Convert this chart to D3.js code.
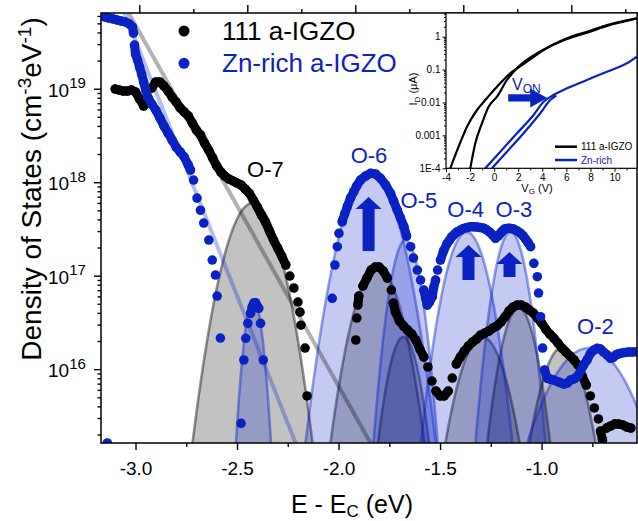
<!DOCTYPE html>
<html>
<head>
<meta charset="utf-8">
<script src="https://cdn.jsdelivr.net/npm/d3@7"></script>
<style>
    body { margin: 0; background: #fff; }
    svg { font-family: Arial, "Liberation Sans", sans-serif; }
</style>
</head>
<body>
<div id="content"></div>
<script>
// density of states, [E - Ec (eV), log10 DOS (cm-3 eV-1)]
const dos111 = [
    [-3.10, 18.997], [-3.08, 18.986], [-3.06, 18.975], [-3.04, 18.975], [-3.02, 18.986], [-3.00, 18.965],
    [-2.98, 18.89], [-2.96, 18.815], [-2.94, 18.879], [-2.92, 19.007], [-2.90, 19.072], [-2.88, 19.072],
    [-2.86, 19.029], [-2.84, 18.975], [-2.82, 18.911], [-2.80, 18.858], [-2.78, 18.794], [-2.76, 18.751],
    [-2.74, 18.708], [-2.72, 18.633], [-2.70, 18.558], [-2.68, 18.505], [-2.66, 18.419], [-2.64, 18.344],
    [-2.62, 18.259], [-2.60, 18.173], [-2.58, 18.109], [-2.56, 18.066], [-2.54, 18.034], [-2.52, 18.013],
    [-2.50, 17.991], [-2.48, 17.97], [-2.46, 17.927], [-2.44, 17.884], [-2.42, 17.809], [-2.40, 17.734],
    [-2.38, 17.648], [-2.36, 17.574], [-2.34, 17.477], [-2.32, 17.381], [-2.30, 17.296], [-2.28, 17.21],
    [-2.26, 17.114], [-2.24, 16.996], [-2.22, 16.868], [-2.20, 16.718], [-2.19, 16.61], [-2.185, 16.47],
    [-2.165, 16.226], [-2.155, 15.713],
    [-1.915, 16.312], [-1.91, 16.547], [-1.905, 16.686], [-1.90, 16.782], [-1.88, 16.889], [-1.86, 16.975],
    [-1.84, 17.06], [-1.82, 17.092], [-1.80, 17.092], [-1.78, 17.05], [-1.76, 16.975], [-1.74, 16.846],
    [-1.73, 16.707], [-1.72, 16.611], [-1.70, 16.515], [-1.68, 16.462], [-1.66, 16.419], [-1.64, 16.376],
    [-1.62, 16.312], [-1.60, 16.215], [-1.58, 16.13], [-1.56, 16.023], [-1.54, 15.873], [-1.52, 15.766],
    [-1.50, 15.713], [-1.48, 15.713], [-1.46, 15.766], [-1.44, 15.905], [-1.42, 16.055], [-1.40, 16.13],
    [-1.38, 16.194], [-1.36, 16.248], [-1.34, 16.29], [-1.32, 16.322], [-1.30, 16.365], [-1.28, 16.386],
    [-1.26, 16.408], [-1.24, 16.44], [-1.22, 16.462], [-1.20, 16.504], [-1.18, 16.558], [-1.16, 16.622],
    [-1.14, 16.665], [-1.12, 16.686], [-1.10, 16.686], [-1.08, 16.665], [-1.06, 16.632], [-1.04, 16.6],
    [-1.02, 16.547], [-1.00, 16.493], [-0.98, 16.429], [-0.96, 16.376], [-0.94, 16.333], [-0.92, 16.28],
    [-0.90, 16.226], [-0.88, 16.183], [-0.86, 16.141], [-0.84, 16.098], [-0.82, 16.044], [-0.80, 15.927],
    [-0.78, 15.83], [-0.76, 15.713], [-0.74, 15.585], [-0.72, 15.467], [-0.71, 15.338], [-0.70, 15.242],
    [-0.68, 15.37], [-0.66, 15.392], [-0.64, 15.413], [-0.62, 15.413], [-0.60, 15.403], [-0.58, 15.381],
    [-0.56, 15.37]
];
const dosZn = [
    [-3.139, 15.21],
    [-3.15, 19.767], [-3.13, 19.756], [-3.11, 19.746], [-3.09, 19.735], [-3.07, 19.724], [-3.05, 19.714],
    [-3.03, 19.692], [-3.015, 19.66], [-3.01, 19.596], [-3.005, 19.467], [-3.00, 19.371], [-2.99, 19.307],
    [-2.98, 19.232], [-2.97, 19.157], [-2.96, 19.072], [-2.95, 18.986], [-2.94, 18.911], [-2.92, 18.836],
    [-2.90, 18.772], [-2.88, 18.687], [-2.86, 18.601], [-2.84, 18.526], [-2.82, 18.451], [-2.80, 18.376],
    [-2.78, 18.323], [-2.76, 18.269], [-2.74, 18.184], [-2.729, 18.13], [-2.714, 18.023], [-2.697, 17.83],
    [-2.68, 17.70], [-2.664, 17.563], [-2.639, 17.381], [-2.622, 17.167], [-2.606, 17.007], [-2.598, 16.782],
    [-2.582, 16.333],
    [-2.480, 15.42], [-2.4665, 16.098], [-2.457, 16.33], [-2.447, 16.49], [-2.4335, 16.597], [-2.425, 16.668],
    [-2.417, 16.708], [-2.409, 16.711], [-2.393, 16.651], [-2.384, 16.49], [-2.371, 16.098],
    [-2.031, 16.758], [-2.018, 17.114], [-2.006, 17.31], [-1.998, 17.453], [-1.982, 17.577], [-1.970, 17.66],
    [-1.957, 17.738], [-1.941, 17.831], [-1.925, 17.898], [-1.911, 17.959], [-1.892, 18.023], [-1.867, 18.066],
    [-1.842, 18.095], [-1.818, 18.088], [-1.793, 18.041], [-1.768, 17.97], [-1.744, 17.881], [-1.729, 17.799],
    [-1.711, 17.702], [-1.695, 17.617], [-1.678, 17.524], [-1.665, 17.424], [-1.645, 17.31], [-1.631, 17.189],
    [-1.612, 17.06], [-1.596, 16.953], [-1.580, 16.846], [-1.571, 16.761], [-1.563, 16.686], [-1.552, 16.718],
    [-1.538, 16.775], [-1.532, 16.868], [-1.522, 16.953], [-1.512, 17.06], [-1.498, 17.167], [-1.483, 17.264],
    [-1.465, 17.346], [-1.453, 17.381], [-1.443, 17.414], [-1.430, 17.442], [-1.415, 17.470], [-1.399, 17.488],
    [-1.384, 17.505], [-1.367, 17.515], [-1.350, 17.524], [-1.335, 17.523], [-1.320, 17.521], [-1.303, 17.515],
    [-1.284, 17.507], [-1.271, 17.491], [-1.256, 17.467], [-1.241, 17.435], [-1.227, 17.40], [-1.214, 17.424],
    [-1.202, 17.456], [-1.192, 17.478], [-1.182, 17.499], [-1.172, 17.504], [-1.161, 17.507], [-1.150, 17.504],
    [-1.138, 17.499], [-1.121, 17.48], [-1.103, 17.453], [-1.091, 17.426], [-1.079, 17.392], [-1.067, 17.355],
    [-1.054, 17.31], [-1.038, 17.132], [-1.021, 16.989], [-1.015, 16.814], [-1.005, 16.561], [-0.995, 16.226],
    [-0.985, 15.991], [-0.972, 15.902], [-0.958, 15.893], [-0.941, 15.884], [-0.916, 15.862], [-0.903, 15.852],
    [-0.890, 15.841], [-0.873, 15.852], [-0.857, 15.884], [-0.840, 15.895], [-0.824, 15.919], [-0.808, 15.98],
    [-0.793, 16.044], [-0.776, 16.098], [-0.759, 16.169], [-0.742, 16.205], [-0.726, 16.223], [-0.710, 16.215],
    [-0.695, 16.183], [-0.677, 16.151], [-0.660, 16.116], [-0.648, 16.125], [-0.635, 16.151], [-0.624, 16.162],
    [-0.611, 16.169], [-0.592, 16.178], [-0.571, 16.183], [-0.552, 16.183], [-0.529, 16.187]
];

// gaussian fit components, [centre (eV), log10 peak, sigma (eV)]
const fit111 = [
    [-2.4236, 17.777, 0.086], [-1.808, 17.082, 0.079], [-1.680, 16.344, 0.055],
    [-1.291, 16.344, 0.08], [-1.113, 16.654, 0.06], [-0.897, 16.237, 0.075]
];
const fitZn = [
    [-2.419, 16.739, 0.0325], [-1.842, 18.098, 0.088], [-1.670, 17.381, 0.05],
    [-1.369, 17.467, 0.07], [-1.153, 17.467, 0.0535], [-0.768, 16.226, 0.14]
];
// exponential tails, [E, log10 DOS at E, decades per eV]
const tail111 = [-3.034, 19.81, -3.86];
const tailZn = [-3.054, 19.81, -5.46];

const peakNames = ["O-7", "O-6", "O-5", "O-4", "O-3", "O-2"];
const peakLabelE = [-2.360, -1.850, -1.604, -1.374, -1.136, -0.735];
const peakLabelLog = [18.055, 18.202, 17.721, 17.631, 17.631, 16.376];
// increase arrows, [E, log10 tip, log10 tail]
const riseArrows = [[-1.852, 17.841, 17.264], [-1.360, 17.328, 16.953], [-1.158, 17.253, 16.986]];

const xMajor = [-3, -2.5, -2, -1.5, -1];
const xMinor = [-2.75, -2.25, -1.75, -1.25, -0.75];
const yMajor = [1e16, 1e17, 1e18, 1e19];
const legendNames = ["111 a-IGZO", "Zn-rich a-IGZO"];

// inset transfer curves, [VG (V), log10 ID (uA)]
const id111Fwd = [[-3.643, -4.0], [-2.953, -3.343], [-2.256, -2.736], [-1.425, -2.228], [-0.736, -1.924],
    [0.236, -1.520], [1.340, -1.112], [2.728, -0.760], [4.106, -0.404], [6.050, -0.049], [7.711, 0.152],
    [9.920, 0.407], [11.864, 0.559]];
const id111Rev = [[-1.982, -4.0], [-1.566, -3.240], [-1.010, -2.632], [-0.462, -2.128], [0.236, -1.824],
    [1.066, -1.316], [2.171, -0.860], [3.558, -0.505], [5.493, -0.152], [7.711, 0.122], [9.920, 0.386],
    [11.864, 0.559]];
const idZnFwd = [[-0.736, -4.0], [0.510, -3.495], [1.897, -2.936], [3.276, -2.380], [4.106, -1.976],
    [4.937, -1.772], [6.050, -1.568], [7.711, -1.316], [9.372, -1.064], [11.033, -0.809], [11.864, -0.608]];
const idZnRev = [[-0.179, -4.0], [1.066, -3.495], [2.445, -2.936], [3.832, -2.328], [4.663, -1.924],
    [5.161, -1.787]];
const insetXTicks = [-4, -2, 0, 2, 4, 6, 8, 10];
const insetYTicks = [1e-4, 1e-3, 1e-2, 1e-1, 1];
const insetYLabels = ["1E-4", "0.001", "0.01", "0.1", "1"];
const insetLegend = ["111 a-IGZO", "Zn-rich"];
// V_ON shift arrow [VG start, VG tip, log10 ID]
const vonArrow = [1.17, 4.41, -1.86];

const blue = "#0a22c2";

function draw() {
    const svg = d3.select("#content").append("svg")
        .attr("width", 638)
        .attr("height", 521);

    const left = 101, right = 637, top = 13, bottom = 443;
    const x = d3.scaleLinear().domain([-3.17, -0.53]).range([left, right]);
    const y = d3.scaleLog().domain([Math.pow(10, 15.21), Math.pow(10, 19.81)]).range([bottom, top]);
    const p = (l) => y(Math.pow(10, l));

    svg.append("clipPath").attr("id", "plotclip")
        .append("rect").attr("x", left).attr("y", top)
        .attr("width", right - left).attr("height", bottom - top);

    const plot = svg.append("g").attr("clip-path", "url(#plotclip)");

    // gaussian component sampled down to 1e15
    function gauss(f) {
        const span = f[2] * Math.sqrt(2 * (f[1] - 15.0) / Math.LOG10E);
        return d3.range(0, 161).map(function (i) {
            const e = f[0] - span + 2 * span * i / 160;
            return [e, f[1] - Math.LOG10E * (e - f[0]) * (e - f[0]) / (2 * f[2] * f[2])];
        });
    }
    const area = d3.area().x(d => x(d[0])).y0(bottom).y1(d => p(Math.max(d[1], 15.0)));
    const line = d3.line().x(d => x(d[0])).y(d => p(d[1]));

    function fits(data, fill, stroke) {
        const g = plot.append("g");
        g.selectAll("path.fill").data(data).enter()
            .append("path").attr("class", "fill")
            .attr("d", d => area(gauss(d)))
            .attr("fill", fill);
        g.selectAll("path.edge").data(data).enter()
            .append("path").attr("class", "edge")
            .attr("d", d => line(gauss(d)))
            .attr("fill", "none")
            .attr("stroke", stroke)
            .attr("stroke-width", 2.6);
    }
    fits(fit111, "rgba(0,0,0,0.24)", "rgba(0,0,0,0.42)");
    fits(fitZn, "rgba(10,34,200,0.24)", "rgba(10,34,200,0.42)");

    function tail(t, stroke) {
        const e1 = t[0] - 0.1, e2 = t[0] + (15.0 - t[1]) / t[2];
        plot.append("path")
            .attr("d", line([[e1, t[1] + t[2] * (e1 - t[0])], [e2, 15.0]]))
            .attr("fill", "none")
            .attr("stroke", stroke)
            .attr("stroke-width", 4);
    }
    tail(tail111, "rgba(0,0,0,0.3)");
    tail(tailZn, "rgba(10,34,200,0.3)");

    // measured points; neighbours closer than a marker are bridged so the
    // dense runs read as one thick band like the original scatter
    function scatter(data, color) {
        const g = plot.append("g");
        let segs = "";
        for (let i = 1; i < data.length; i++) {
            const x0 = x(data[i - 1][0]), y0 = p(data[i - 1][1]);
            const x1 = x(data[i][0]), y1 = p(data[i][1]);
            if (Math.hypot(x1 - x0, y1 - y0) < 10) segs += "M" + x0 + "," + y0 + "L" + x1 + "," + y1;
        }
        g.append("path").attr("d", segs)
            .attr("fill", "none").attr("stroke", color)
            .attr("stroke-width", 9).attr("stroke-linecap", "round");
        g.selectAll("circle").data(data).enter()
            .append("circle")
            .attr("cx", d => x(d[0])).attr("cy", d => p(d[1]))
            .attr("r", 4.8).attr("fill", color);
    }
    scatter(dos111, "#000");
    scatter(dosZn, blue);

    // arrows for the grown peaks
    svg.append("g").selectAll("polygon").data(riseArrows).enter()
        .append("polygon")
        .attr("points", function (d) {
            const cx = x(d[0]), ty = p(d[1]), by = p(d[2]), hl = 12, hh = 13, bh = 6;
            return [[cx, ty], [cx + hh, ty + hl], [cx + bh, ty + hl], [cx + bh, by], [cx - bh, by],
                [cx - bh, ty + hl], [cx - hh, ty + hl]].join(" ");
        })
        .attr("fill", blue);

    svg.append("g").selectAll("text").data(peakNames).enter()
        .append("text")
        .attr("x", (d, i) => x(peakLabelE[i]))
        .attr("y", (d, i) => p(peakLabelLog[i]))
        .attr("text-anchor", "middle")
        .attr("font-size", 22)
        .attr("fill", (d, i) => i == 0 ? "#000" : blue)
        .text(d => d);

    // axes
    const axes = svg.append("g").attr("font-family", "Arial, 'Liberation Sans', sans-serif");
    function clean(g) {
        g.select(".domain").remove();
        g.selectAll("line").attr("stroke", "#000").attr("stroke-width", 1.4);
    }
    axes.append("g").attr("transform", "translate(0," + bottom + ")")
        .call(d3.axisBottom(x).tickValues(xMajor).tickSize(7).tickPadding(12).tickFormat(d => d.toFixed(1)))
        .call(clean)
        .selectAll("text").attr("font-size", 19).attr("fill", "#000");
    axes.append("g").attr("transform", "translate(0," + bottom + ")")
        .call(d3.axisBottom(x).tickValues(xMinor).tickSize(4).tickFormat(""))
        .call(clean);

    // top axis has its own tick spacing
    const xTop = d3.scaleLinear().domain([0, 4]).range([139.3, 571.3]);
    axes.append("g").attr("transform", "translate(0," + top + ")")
        .call(d3.axisTop(xTop).tickValues([0, 1, 2, 3, 4]).tickSize(8).tickFormat(""))
        .call(clean);
    axes.append("g").attr("transform", "translate(0," + top + ")")
        .call(d3.axisTop(xTop).tickValues([0.5, 1.5, 2.5, 3.5, 4.5]).tickSize(4).tickFormat(""))
        .call(clean);

    const yMinor = [];
    for (let e = 15; e <= 19; e++) {
        for (let m = 2; m <= 9; m++) {
            const v = m * Math.pow(10, e);
            if (v > y.domain()[0] && v < y.domain()[1]) yMinor.push(v);
        }
    }
    axes.append("g").attr("transform", "translate(" + left + ",0)")
        .call(d3.axisLeft(y).tickValues(yMinor).tickSize(3.5).tickFormat(""))
        .call(clean);
    const yl = axes.append("g").attr("transform", "translate(" + left + ",0)")
        .call(d3.axisLeft(y).tickValues(yMajor).tickSize(7).tickPadding(6).tickFormat(""))
        .call(clean);
    yl.selectAll(".tick text")
        .attr("dy", "0.4em")
        .attr("x", -53)
        .attr("text-anchor", "start")
        .attr("font-size", 19)
        .attr("fill", "#000")
        .each(function (d) {
            const t = d3.select(this);
            t.append("tspan").text("10");
            t.append("tspan").attr("dy", -8.5).attr("font-size", 15).text(Math.round(Math.log10(d)));
        });

    // frame
    axes.append("rect")
        .attr("x", left).attr("y", top)
        .attr("width", right - left).attr("height", bottom - top)
        .attr("fill", "none").attr("stroke", "#000").attr("stroke-width", 1.5);

    // axis titles
    const xt = svg.append("text").attr("x", 352).attr("y", 513)
        .attr("text-anchor", "middle").attr("font-size", 25);
    xt.append("tspan").text("E - E");
    xt.append("tspan").attr("dy", 4).attr("font-size", 17).text("C");
    xt.append("tspan").attr("dy", -4).text(" (eV)");

    const yt = svg.append("text").attr("transform", "translate(41,189) rotate(-90)")
        .attr("text-anchor", "middle").attr("font-size", 28);
    yt.append("tspan").text("Density of States (cm");
    yt.append("tspan").attr("dy", -10).attr("font-size", 19).text("-3");
    yt.append("tspan").attr("dy", 10).text("eV");
    yt.append("tspan").attr("dy", -10).attr("font-size", 19).text("-1");
    yt.append("tspan").attr("dy", 10).text(")");

    // legend
    const lg = svg.append("g").selectAll("g").data(legendNames).enter()
        .append("g").attr("transform", (d, i) => "translate(184," + (31 + i * 32.3) + ")");
    lg.append("circle").attr("r", 5.5).attr("fill", (d, i) => i == 0 ? "#000" : blue);
    lg.append("text").attr("x", 38).attr("y", 8.5).attr("font-size", 26)
        .attr("fill", (d, i) => i == 0 ? "#000" : blue)
        .text(d => d);

    drawInset(svg);
}

function drawInset(svg) {
    const l = 446, r = 637, t = 13, b = 168.3;
    const xi = d3.scaleLinear().domain([-4, 11.87]).range([l, r]);
    const yi = d3.scaleLog().domain([1e-4, Math.pow(10, 0.72)]).range([b, t]);
    const g = svg.append("g");

    g.append("rect").attr("x", l).attr("y", t).attr("width", r - l).attr("height", b - t)
        .attr("fill", "#fff");

    g.append("clipPath").attr("id", "insetclip")
        .append("rect").attr("x", l).attr("y", t).attr("width", r - l).attr("height", b - t);

    const line = d3.line().curve(d3.curveMonotoneX)
        .x(d => xi(d[0])).y(d => yi(Math.pow(10, d[1])));
    const curves = [[id111Fwd, "#000"], [id111Rev, "#000"], [idZnFwd, blue], [idZnRev, blue]];
    g.append("g").attr("clip-path", "url(#insetclip)")
        .selectAll("path").data(curves).enter()
        .append("path")
        .attr("d", d => line(d[0]))
        .attr("fill", "none")
        .attr("stroke", d => d[1])
        .attr("stroke-width", 2.2);

    // V_ON arrow
    const ay = yi(Math.pow(10, vonArrow[2]));
    const ax0 = xi(vonArrow[0]), ax1 = xi(vonArrow[1]);
    g.append("polygon")
        .attr("points", [[ax0, ay - 3.6], [ax1 - 17, ay - 3.6], [ax1 - 17, ay - 9.5], [ax1, ay],
            [ax1 - 17, ay + 9.5], [ax1 - 17, ay + 3.6], [ax0, ay + 3.6]].join(" "))
        .attr("fill", blue);
    const vt = g.append("text").attr("x", xi(1.48)).attr("y", yi(Math.pow(10, -1.62)))
        .attr("font-size", 16).attr("fill", blue);
    vt.append("tspan").text("V");
    vt.append("tspan").attr("dy", 3.5).attr("font-size", 12).text("ON");

    function clean(a) {
        a.select(".domain").remove();
        a.selectAll("line").attr("stroke", "#000").attr("stroke-width", 1);
    }
    g.append("g").attr("transform", "translate(0," + b + ")")
        .call(d3.axisBottom(xi).tickValues(insetXTicks).tickSize(3.5).tickPadding(2).tickFormat(d => String(d)))
        .call(clean)
        .selectAll("text").attr("font-size", 10).attr("fill", "#000");
    g.append("g").attr("transform", "translate(0," + b + ")")
        .call(d3.axisBottom(xi).tickValues(d3.range(-3, 12, 2)).tickSize(2).tickFormat(""))
        .call(clean);

    const yMinor = [];
    for (let e = -4; e <= 0; e++) {
        for (let m = 2; m <= 9; m++) {
            const v = m * Math.pow(10, e);
            if (v < yi.domain()[1]) yMinor.push(v);
        }
    }
    g.append("g").attr("transform", "translate(" + l + ",0)")
        .call(d3.axisLeft(yi).tickValues(yMinor).tickSize(2).tickFormat(""))
        .call(clean);
    g.append("g").attr("transform", "translate(" + l + ",0)")
        .call(d3.axisLeft(yi).tickValues(insetYTicks).tickSize(3.5).tickPadding(2)
            .tickFormat((d, i) => insetYLabels[i]))
        .call(clean)
        .selectAll("text").attr("font-size", 10).attr("fill", "#000");

    g.append("rect").attr("x", l).attr("y", t).attr("width", r - l).attr("height", b - t)
        .attr("fill", "none").attr("stroke", "#000").attr("stroke-width", 1.2);

    const xt = g.append("text").attr("x", 537).attr("y", 192)
        .attr("text-anchor", "middle").attr("font-size", 11);
    xt.append("tspan").text("V");
    xt.append("tspan").attr("dy", 2.3).attr("font-size", 8).text("G");
    xt.append("tspan").attr("dy", -2.3).text(" (V)");
    const yt = g.append("text").attr("transform", "translate(417,89) rotate(-90)")
        .attr("text-anchor", "middle").attr("font-size", 11);
    yt.append("tspan").text("I");
    yt.append("tspan").attr("dy", 3).attr("font-size", 8).text("D");
    yt.append("tspan").attr("dy", -3).text(" (\u03bcA)");

    // inset legend
    const lg = g.selectAll("g.leg").data(insetLegend).enter()
        .append("g").attr("class", "leg")
        .attr("transform", (d, i) => "translate(555," + (146.7 + i * 13.3) + ")");
    lg.append("line").attr("x1", 0).attr("x2", 22)
        .attr("stroke", (d, i) => i == 0 ? "#000" : blue).attr("stroke-width", 2.5);
    lg.append("text").attr("x", 26).attr("y", 3.6).attr("font-size", 10)
        .attr("fill", (d, i) => i == 0 ? "#000" : blue)
        .text(d => d);
}

draw();
</script>
</body>
</html>
